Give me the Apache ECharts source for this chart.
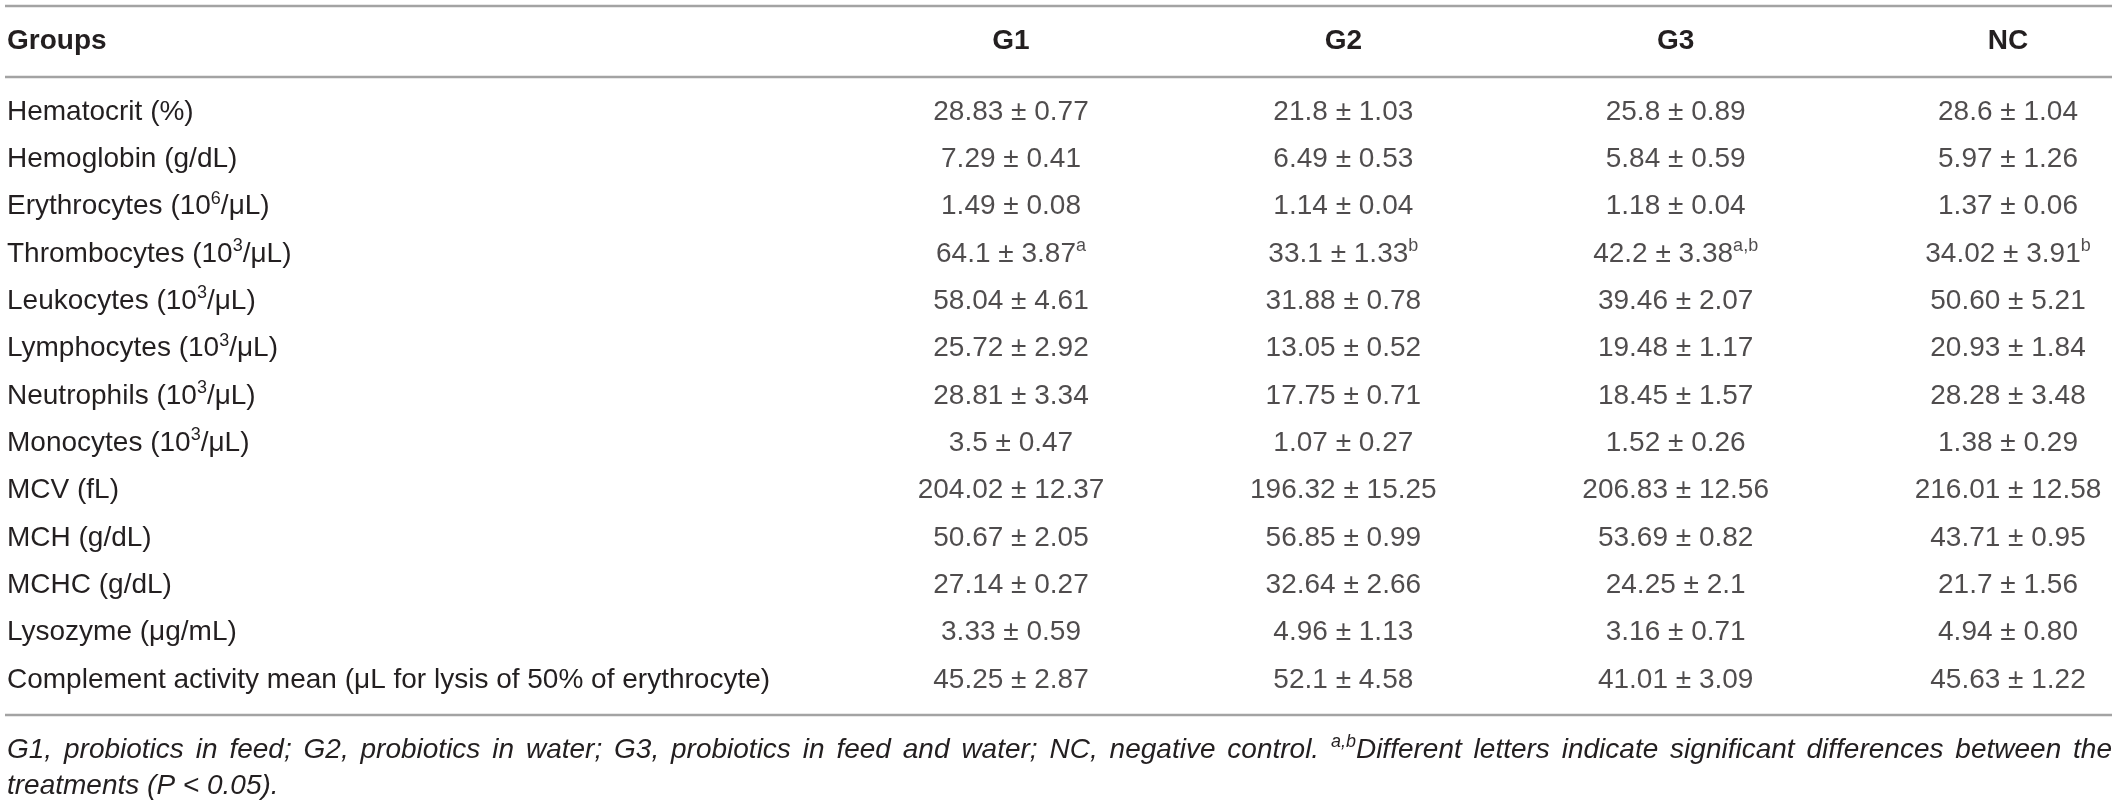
<!DOCTYPE html>
<html>
<head>
<meta charset="utf-8">
<script src="https://cdn.jsdelivr.net/npm/echarts@6/dist/echarts.min.js"></script>
<style>
  html, body { margin: 0; padding: 0; background: #fff; }
  #main { width: 2118px; height: 807px; }
</style>
</head>
<body>
<div id="main"></div>
<script>
// table content
var groups = ['G1', 'G2', 'G3', 'NC'];
var rowLabels = [
  'Hematocrit (%)', 'Hemoglobin (g/dL)', 'Erythrocytes (10^6/μL)', 'Thrombocytes (10^3/μL)',
  'Leukocytes (10^3/μL)', 'Lymphocytes (10^3/μL)', 'Neutrophils (10^3/μL)', 'Monocytes (10^3/μL)',
  'MCV (fL)', 'MCH (g/dL)', 'MCHC (g/dL)', 'Lysozyme (μg/mL)',
  'Complement activity mean (μL for lysis of 50% of erythrocyte)'
];
var meanG1 = ['28.83', '7.29', '1.49', '64.1', '58.04', '25.72', '28.81', '3.5', '204.02', '50.67', '27.14', '3.33', '45.25'];
var sdG1   = ['0.77', '0.41', '0.08', '3.87', '4.61', '2.92', '3.34', '0.47', '12.37', '2.05', '0.27', '0.59', '2.87'];
var meanG2 = ['21.8', '6.49', '1.14', '33.1', '31.88', '13.05', '17.75', '1.07', '196.32', '56.85', '32.64', '4.96', '52.1'];
var sdG2   = ['1.03', '0.53', '0.04', '1.33', '0.78', '0.52', '0.71', '0.27', '15.25', '0.99', '2.66', '1.13', '4.58'];
var meanG3 = ['25.8', '5.84', '1.18', '42.2', '39.46', '19.48', '18.45', '1.52', '206.83', '53.69', '24.25', '3.16', '41.01'];
var sdG3   = ['0.89', '0.59', '0.04', '3.38', '2.07', '1.17', '1.57', '0.26', '12.56', '0.82', '2.1', '0.71', '3.09'];
var meanNC = ['28.6', '5.97', '1.37', '34.02', '50.60', '20.93', '28.28', '1.38', '216.01', '43.71', '21.7', '4.94', '45.63'];
var sdNC   = ['1.04', '1.26', '0.06', '3.91', '5.21', '1.84', '3.48', '0.29', '12.58', '0.95', '1.56', '0.80', '1.22'];
// significance letters (superscripts)
var letterG1 = ['', '', '', 'a', '', '', '', '', '', '', '', '', ''];
var letterG2 = ['', '', '', 'b', '', '', '', '', '', '', '', '', ''];
var letterG3 = ['', '', '', 'a,b', '', '', '', '', '', '', '', '', ''];
var letterNC = ['', '', '', 'b', '', '', '', '', '', '', '', '', ''];
var footWords = ['G1,', 'probiotics', 'in', 'feed;', 'G2,', 'probiotics', 'in', 'water;', 'G3,', 'probiotics',
  'in', 'feed', 'and', 'water;', 'NC,', 'negative', 'control.', '^a,b Different', 'letters', 'indicate',
  'significant', 'differences', 'between', 'the'];
var footLine2 = 'treatments (P < 0.05).';

var FONT = '"Liberation Sans", Arial, Helvetica, sans-serif';
var INK = '#231f20';
var RULE = '#a3a3a3';

var means = [meanG1, meanG2, meanG3, meanNC];
var sds = [sdG1, sdG2, sdG3, sdNC];
var letters = [letterG1, letterG2, letterG3, letterNC];

var richText = {
  n: { fontSize: 28, lineHeight: 34, color: INK, fontFamily: FONT },
  s: { fontSize: 18, lineHeight: 18, color: INK, fontFamily: FONT, verticalAlign: 'top' }
};

function supMarkup(str) {
  // 'Erythrocytes (10^6/μL)' -> rich text with superscript
  var m = str.match(/^(.*)\^(\S)(.*)$/);
  if (!m) return '{n|' + str + '}';
  return '{n|' + m[1] + '}{s|' + m[2] + '}{n|' + m[3] + '}';
}

var series = groups.map(function (g, gi) {
  return {
    type: 'scatter',
    name: g,
    symbolSize: 0,
    silent: true,
    data: rowLabels.map(function (r, ri) { return [g, r]; }),
    label: {
      show: true,
      position: 'inside',
      formatter: function (p) {
        var i = p.dataIndex;
        var t = '{n|' + means[gi][i] + ' ± ' + sds[gi][i] + '}';
        if (letters[gi][i]) t += '{s|' + letters[gi][i] + '}';
        return t;
      },
      rich: richText
    }
  };
});

var chart = echarts.init(document.getElementById('main'));
var gridLeft = 1011, gridRight = 110, gridTop = 112, gridBottom = 127;

// justify the first footnote line over the table width
var ctx = document.createElement('canvas').getContext('2d');
function tw(t, size) {
  ctx.font = 'italic ' + size + 'px ' + FONT;
  return ctx.measureText(t).width;
}
var footX0 = 7, footX1 = 2112;
var fs = 28;
function wordWidth(w, size) {
  if (w.charAt(0) === '^') {
    var parts = w.slice(1).split(' ');
    return tw(parts[0], size * 0.64) + tw(parts[1], size);
  }
  return tw(w, size);
}
function natural(size) {
  var s = 0;
  footWords.forEach(function (w) { s += wordWidth(w, size); });
  return s;
}
while (natural(fs) + (footWords.length - 1) * 6 > footX1 - footX0 && fs > 20) fs -= 0.5;
var gap = (footX1 - footX0 - natural(fs)) / (footWords.length - 1);
var footGraphics = [];
var cx = footX0;
var footRich = {
  t: { fontSize: fs, lineHeight: 34, fontStyle: 'italic', fontFamily: FONT, fill: INK, color: INK },
  s: { fontSize: fs * 0.64, lineHeight: 18, fontStyle: 'italic', fontFamily: FONT, fill: INK, color: INK, verticalAlign: 'top' }
};
footWords.forEach(function (w) {
  var txt;
  if (w.charAt(0) === '^') {
    var parts = w.slice(1).split(' ');
    txt = '{s|' + parts[0] + '}{t|' + parts[1] + '}';
  } else {
    txt = '{t|' + w + '}';
  }
  footGraphics.push({
    type: 'text', x: cx, y: 750,
    style: { text: txt, rich: footRich, fill: INK, verticalAlign: 'middle', align: 'left', font: 'italic ' + fs + 'px ' + FONT }
  });
  cx += wordWidth(w, fs) + gap;
});
footGraphics.push({
  type: 'text', x: footX0, y: 786,
  style: { text: footLine2, fill: INK, verticalAlign: 'middle', align: 'left', font: 'italic ' + fs + 'px ' + FONT }
});

var rules = [6, 77, 715].map(function (y) {
  return { type: 'line', shape: { x1: 5, y1: y, x2: 2112, y2: y }, style: { stroke: RULE, lineWidth: 2.5 } };
});

// header cell of the label column
var headLeft = {
  type: 'text', x: 7, y: 41,
  style: { text: 'Groups', fill: INK, verticalAlign: 'middle', align: 'left', font: 'bold 28px ' + FONT }
};

var option = {
  backgroundColor: '#fff',
  animation: false,
  grid: { left: gridLeft, right: gridRight, top: gridTop, bottom: gridBottom },
  xAxis: {
    type: 'category', data: groups, position: 'top', boundaryGap: false,
    axisLine: { show: false }, axisTick: { show: false }, splitLine: { show: false },
    axisLabel: { margin: 71, verticalAlign: 'middle', fontSize: 28, fontWeight: 'bold', color: INK, fontFamily: FONT }
  },
  yAxis: {
    type: 'category', data: rowLabels, inverse: true, boundaryGap: false,
    axisLine: { show: false }, axisTick: { show: false }, splitLine: { show: false },
    axisLabel: {
      interval: 0, align: 'left', margin: gridLeft - 7,
      formatter: supMarkup, rich: richText
    }
  },
  graphic: rules.concat([headLeft], footGraphics),
  series: series
};
chart.setOption(option);
</script>
</body>
</html>
